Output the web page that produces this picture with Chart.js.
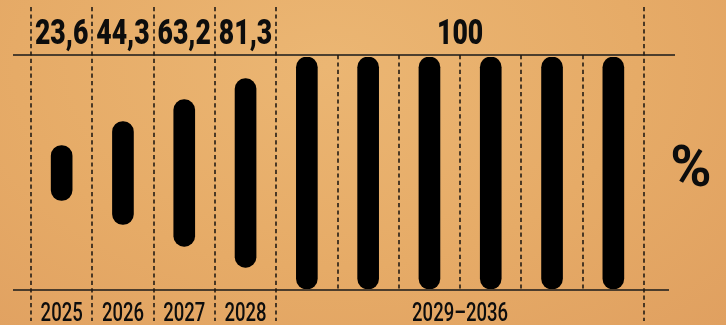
<!DOCTYPE html>
<html>
<head>
<meta charset="utf-8">
<script src="https://cdn.jsdelivr.net/npm/chart.js@4"></script>
<style>
  html, body { margin:0; padding:0; }
  body {
    width:726px; height:325px; overflow:hidden;
    background: radial-gradient(ellipse at 45% 20%, #ebb673 0%, #e6ab67 55%, #e0a060 100%);
  }
  #wrap { position:relative; width:726px; height:325px; }
</style>
</head>
<body>
<div id="wrap"><canvas id="chart" width="726" height="325"></canvas></div>
<script>
const years = ['2025','2026','2027','2028','2029','2030','2031','2032','2033','2034'];
const shares = [23.6, 44.3, 63.2, 81.3, 100, 100, 100, 100, 100, 100];
const topLabels = ['23,6', '44,3', '63,2', '81,3', '100'];
const bottomLabels = ['2025', '2026', '2027', '2028', '2029–2036'];
const groups = [[0, 0], [1, 1], [2, 2], [3, 3], [4, 9]];
const unit = '%';

// narrow look: Roboto squeezed horizontally
function narrowText(c, text, x, y, font, sx) {
    c.save();
    c.font = font;
    c.translate(x, y);
    c.scale(sx, 1);
    c.fillText(text, 0, 0);
    c.restore();
}

const decor = {
    id: 'decor',
    beforeDatasetsDraw(chart) {
        const c = chart.ctx;
        const x = chart.scales.x, y = chart.scales.y;
        const half = (x.getPixelForValue(1) - x.getPixelForValue(0)) / 2;
        const top = y.getPixelForValue(100) - 2;
        const bottom = y.getPixelForValue(0) + 1;
        const rightEdge = x.getPixelForValue(years.length - 1) + half;

        c.save();
        c.strokeStyle = '#1a1a1a';
        c.lineWidth = 1.4;
        c.beginPath();
        c.moveTo(13, top); c.lineTo(rightEdge + 31, top);
        c.moveTo(13, bottom); c.lineTo(rightEdge + 25, bottom);
        c.stroke();

        c.setLineDash([4.2, 3.2]);
        c.strokeStyle = '#231c14';
        c.lineWidth = 1.6;
        const groupEdges = new Set();
        groups.forEach(g => { groupEdges.add(g[0]); groupEdges.add(g[1] + 1); });
        for (let i = 0; i <= years.length; i++) {
            const px = Math.round(x.getPixelForValue(i) - half);
            c.beginPath();
            if (groupEdges.has(i)) { c.moveTo(px, 7); c.lineTo(px, 321); }
            else { c.moveTo(px, top); c.lineTo(px, bottom); }
            c.stroke();
        }
        c.restore();
    },
    afterDatasetsDraw(chart) {
        const c = chart.ctx;
        const x = chart.scales.x;
        c.save();
        c.fillStyle = '#0d0d0d';
        c.textAlign = 'center';
        c.textBaseline = 'alphabetic';
        groups.forEach((g, i) => {
            const cx = (x.getPixelForValue(g[0]) + x.getPixelForValue(g[1])) / 2;
            narrowText(c, topLabels[i], cx, 44, '900 35px Roboto', 0.76);
            narrowText(c, bottomLabels[i], cx, 321, '500 25px Roboto', 0.74);
        });
        narrowText(c, unit, 691, 186, 'bold 57px Roboto', 0.98);
        c.restore();
    }
};

new Chart(document.getElementById('chart'), {
    type: 'bar',
    data: {
        labels: years,
        datasets: [{
            data: shares.map(v => [50 - v / 2, 50 + v / 2]),
            backgroundColor: '#000000',
            borderSkipped: false,
            borderRadius: 11,
            barThickness: 21
        }]
    },
    options: {
        responsive: false,
        animation: false,
        layout: { padding: { left: 31, right: 82, top: 57, bottom: 36 } },
        plugins: { legend: { display: false }, tooltip: { enabled: false } },
        scales: {
            x: { display: false },
            y: { display: false, min: 0, max: 100 }
        }
    },
    plugins: [decor]
});
</script>
</body>
</html>
